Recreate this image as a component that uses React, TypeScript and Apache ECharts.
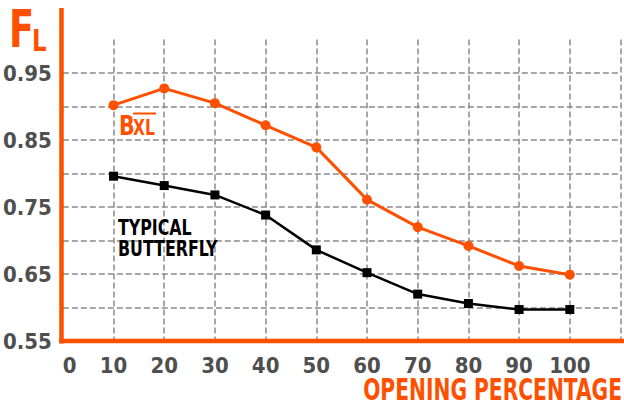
import React, { useEffect, useRef } from "react";
import * as echarts from "echarts";

const openings = [10, 20, 30, 40, 50, 60, 70, 80, 90, 100];
const bxlValues = [0.902, 0.927, 0.905, 0.872, 0.839, 0.761, 0.72, 0.692, 0.662, 0.649];
const butterflyValues = [0.796, 0.782, 0.768, 0.738, 0.686, 0.652, 0.62, 0.606, 0.597, 0.597];
const yLabelTicks = ["0.55", "0.65", "0.75", "0.85", "0.95"];
const xLabelTicks = ["0", "10", "20", "30", "40", "50", "60", "70", "80", "90", "100"];

const ORANGE = "#ff5000";
const GRAY = "#4f4f4f";
const FONT = "'Liberation Sans Narrow', 'DejaVu Sans Condensed', sans-serif";

function condensed(text: string, x: number, y: number, size: number, sx: number, color: string, extra: any = {}) {
  return {
    type: "text",
    x,
    y,
    scaleX: sx,
    z: 20,
    style: { text, fill: color, font: `bold ${size}px ${FONT}`, align: "left", verticalAlign: "top", ...extra },
  };
}

export default function App() {
  const ref = useRef<HTMLDivElement>(null);
  useEffect(() => {
    if (!ref.current) return;
    const chart = echarts.init(ref.current, null, { renderer: "svg" });
    const gridLine = { lineStyle: { color: "#8a8a8a", width: 1.5, type: [6, 3] } };
    chart.setOption({
      animation: false,
      backgroundColor: "#ffffff",
      grid: { left: 61.5, right: 3.5, top: 39.5, bottom: 65, containLabel: false },
      xAxis: {
        type: "value",
        min: 0,
        max: 110,
        interval: 10,
        axisLine: { show: false },
        axisTick: { show: false },
        axisLabel: {
          margin: 13,
          color: GRAY,
          fontFamily: FONT,
          fontWeight: "bold",
          fontSize: 22,
          alignMinLabel: "left",
          formatter: (v: number) => (xLabelTicks.includes(String(v)) ? String(v) : ""),
        },
        splitLine: { show: true, showMinLine: false, showMaxLine: true, ...gridLine },
      },
      yAxis: {
        type: "value",
        min: 0.55,
        max: 1.0,
        interval: 0.05,
        axisLine: { show: false },
        axisTick: { show: false },
        axisLabel: {
          margin: 11,
          color: GRAY,
          fontFamily: FONT,
          fontWeight: "bold",
          fontSize: 22,
          formatter: (v: number) => {
            const s = v.toFixed(2);
            return yLabelTicks.includes(s) ? s : "";
          },
        },
        splitLine: { show: true, showMinLine: false, showMaxLine: false, ...gridLine },
      },
      series: [
        {
          name: "BXL",
          type: "line",
          data: openings.map((x, i) => [x, bxlValues[i]]),
          symbol: "circle",
          symbolSize: 10,
          itemStyle: { color: ORANGE },
          lineStyle: { color: ORANGE, width: 3 },
          z: 4,
        },
        {
          name: "Typical Butterfly",
          type: "line",
          data: openings.map((x, i) => [x, butterflyValues[i]]),
          symbol: "rect",
          symbolSize: 9,
          itemStyle: { color: "#000000" },
          lineStyle: { color: "#000000", width: 2.5 },
          z: 3,
        },
      ],
      graphic: [
        { type: "line", z: 10, shape: { x1: 61.5, y1: 8, x2: 61.5, y2: 343.5 }, style: { stroke: ORANGE, lineWidth: 4.5 } },
        { type: "line", z: 10, shape: { x1: 59, y1: 341, x2: 624, y2: 341 }, style: { stroke: ORANGE, lineWidth: 4.5 } },
        condensed("F", 9, 4, 51, 0.8, ORANGE),
        condensed("L", 32, 26, 30, 0.85, ORANGE),
        condensed("OPENING PERCENTAGE", 622, 389, 30, 0.75, ORANGE, { align: "right", verticalAlign: "middle", lineHeight: 28 }),
        condensed("B", 119, 112, 27, 0.85, ORANGE),
        condensed("XL", 133, 117, 21, 0.82, ORANGE),
        { type: "line", z: 20, shape: { x1: 133, y1: 113.5, x2: 156, y2: 113.5 }, style: { stroke: ORANGE, lineWidth: 2 } },
        condensed("TYPICAL\nBUTTERFLY", 118, 217, 22, 0.8, "#000000", { lineHeight: 21 }),
      ],
    });
    return () => chart.dispose();
  }, []);
  return <div ref={ref} style={{ width: 624, height: 406, position: "fixed", left: 0, top: 0 }} />;
}
